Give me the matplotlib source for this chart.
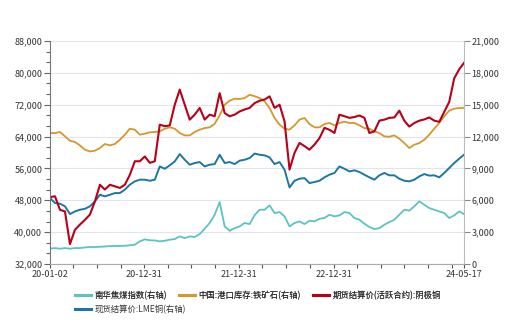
import numpy as np
import pandas as pd
import matplotlib
matplotlib.use("Agg")
import matplotlib.pyplot as plt
from matplotlib.lines import Line2D

plt.rcParams['font.family'] = ['Noto Sans CJK SC', 'DejaVu Sans']
plt.rcParams['axes.unicode_minus'] = False

# ---------------- data ----------------
start_date = "2020-01-02"
end_date = "2024-05-17"
step_days = 19.25
n_steps = 83

copper_shfe = [48800, 49000, 45600, 45200, 37000, 40600, 41900, 43100, 44400, 47700,
               51900, 50700, 51900, 51500, 51100, 51900, 54400, 57800, 57800, 59000,
               57400, 57800, 67000, 66600, 66800, 72000, 75800, 72000, 68250, 69500,
               71200, 68250, 69500, 69100, 74900, 69900, 69100, 69500, 70300, 70800,
               71200, 72400, 73000, 73300, 74100, 71200, 72000, 67800, 55700, 59900,
               62400, 61600, 60700, 62000, 63600, 66200, 65700, 64900, 69500, 69100,
               68700, 68900, 69300, 68700, 64900, 65300, 68000, 68250, 68700, 68800,
               70500, 68000, 66500, 67400, 68000, 68300, 68800, 68000, 67700, 70200,
               72700, 78600, 80900, 82500]

iron_ore_stock = [12330, 12330, 12430, 12020, 11610, 11490, 11170, 10760, 10600, 10670,
                  10920, 11300, 11170, 11300, 11700, 12180, 12740, 12650, 12180, 12270,
                  12400, 12430, 12490, 12740, 12870, 12740, 12330, 12110, 12110, 12430,
                  12650, 12800, 12870, 13200, 14000, 15000, 15380, 15570, 15540, 15630,
                  15940, 15800, 15630, 15320, 14690, 13750, 13120, 12740, 12650, 13060,
                  13590, 13750, 13180, 12870, 12870, 13180, 13280, 13060, 13280, 13400,
                  13280, 13280, 13060, 12800, 12740, 12490, 12330, 12020, 11990, 12110,
                  11800, 11390, 10920, 11230, 11390, 11700, 12180, 12740, 13280, 13900,
                  14440, 14630, 14690, 14700]

lme_copper = [6210, 5740, 5680, 5430, 4700, 4950, 5110, 5200, 5430, 5900,
              6520, 6370, 6520, 6680, 6680, 7000, 7470, 7780, 7940, 7940,
              7840, 7940, 9190, 8970, 9290, 9660, 10350, 9820, 9350, 9510,
              9600, 9190, 9350, 9410, 10290, 9510, 9600, 9410, 9730, 9820,
              9980, 10400, 10290, 10230, 10040, 9410, 9600, 8880, 7210, 7840,
              8030, 8090, 7620, 7720, 7840, 8160, 8410, 8570, 9190, 8970,
              8720, 8820, 8660, 8410, 8160, 7940, 8350, 8570, 8350, 8350,
              8030, 7840, 7780, 7940, 8250, 8470, 8320, 8350, 8160, 8570,
              9040, 9510, 9920, 10290]

coking_coal = [1440, 1500, 1440, 1500, 1440, 1500, 1500, 1560, 1600, 1600,
               1620, 1650, 1690, 1690, 1700, 1720, 1760, 1820, 2130, 2320,
               2230, 2220, 2130, 2190, 2290, 2350, 2600, 2440, 2600, 2540,
               2820, 3320, 3860, 4640, 5830, 3540, 3130, 3380, 3540, 3860,
               3760, 4600, 5110, 5110, 5520, 4800, 4890, 4480, 3540, 3860,
               4010, 3760, 4080, 4010, 4260, 4330, 4640, 4480, 4580, 4890,
               4800, 4330, 4170, 3790, 3480, 3290, 3380, 3700, 3950, 4170,
               4640, 5110, 5020, 5430, 5900, 5580, 5270, 5110, 4950, 4800,
               4330, 4580, 4950, 4700]

labels = ["南华焦煤指数(右轴)", "中国:港口库存:铁矿石(右轴)",
          "期货结算价(活跃合约):阴极铜", "现货结算价:LME铜(右轴)"]
colors = ["#5cc3c3", "#d4982c", "#b8001a", "#1d76a3"]

left_ticks = [32000, 40000, 48000, 56000, 64000, 72000, 80000, 88000]
right_ticks = [0, 3000, 6000, 9000, 12000, 15000, 18000, 21000]
x_label_dates = ["2020-01-02", "2020-12-31", "2021-12-31", "2022-12-31", "2024-05-17"]
x_label_text = ["20-01-02", "20-12-31", "21-12-31", "22-12-31", "24-05-17"]

# ---------------- dates ----------------
t0 = pd.Timestamp(start_date)
dates = [t0 + pd.Timedelta(days=step_days * i) for i in range(n_steps)] + [pd.Timestamp(end_date)]
dates = pd.to_datetime(dates)

quarter_ticks = list(pd.date_range("2020-03-31", "2024-03-31", freq="QE"))
tick_dates = [pd.Timestamp(start_date)] + quarter_ticks + [pd.Timestamp(end_date)]

# ---------------- figure ----------------
fig = plt.figure(figsize=(5.28, 3.31), dpi=100)
ax1 = fig.add_axes([50 / 528, 1 - 264 / 331, 414 / 528, 223 / 331])
ax2 = ax1.twinx()

ax2.plot(dates, coking_coal, color=colors[0], lw=1.3)
ax2.plot(dates, iron_ore_stock, color=colors[1], lw=1.3)
ax2.plot(dates, lme_copper, color=colors[3], lw=1.4)
ax1.plot(dates, copper_shfe, color=colors[2], lw=1.5)

ax1.set_zorder(ax2.get_zorder() + 1)
ax1.patch.set_visible(False)

ax1.set_ylim(left_ticks[0], left_ticks[-1])
ax2.set_ylim(right_ticks[0], right_ticks[-1])
ax1.set_xlim(pd.Timestamp(start_date), pd.Timestamp(end_date))

ax1.set_yticks(left_ticks)
ax1.set_yticklabels([f"{v:,}" for v in left_ticks])
ax1.set_yticks(np.arange(left_ticks[0], left_ticks[-1], 8000 / 3), minor=True)
ax2.set_yticks(right_ticks)
ax2.set_yticklabels(["0" if v == 0 else f"{v:,}" for v in right_ticks])

ax1.set_xticks(tick_dates)
lab_set = {pd.Timestamp(d): t for d, t in zip(x_label_dates, x_label_text)}
ax1.set_xticklabels([lab_set.get(pd.Timestamp(d), "") for d in tick_dates])

ax2.grid(axis="y", color="#e4e4ee", lw=0.8)
ax2.set_axisbelow(True)
ax1.grid(False)

for ax in (ax1, ax2):
    ax.spines["top"].set_visible(False)
ax1.spines["left"].set_color("#777777")
ax1.spines["bottom"].set_color("#aaaaaa")
ax2.spines["right"].set_color("#bbbbbb")
ax2.spines["left"].set_visible(False)
ax2.spines["bottom"].set_visible(False)
ax1.spines["right"].set_visible(False)

ax1.tick_params(axis="y", which="major", length=4, width=0.8, color="#666666",
                labelsize=6.5, labelcolor="#333333", pad=1.5)
ax1.tick_params(axis="y", which="minor", length=3, width=0.8, color="#666666")
ax2.tick_params(axis="y", length=4, width=0.8, color="#888888",
                labelsize=6.5, labelcolor="#333333", pad=1.5)
ax1.tick_params(axis="x", length=3, width=0.8, color="#555555",
                labelsize=6.5, labelcolor="#333333", pad=1.5)

# ---------------- legend ----------------
handles = [Line2D([], [], color=c, lw=2.2) for c in colors]
leg1 = fig.legend(handles[:3], labels[:3], ncol=3, loc="upper left",
                  bbox_to_anchor=(75 / 528, 1 - 291 / 331), frameon=False,
                  fontsize=6, handlelength=1.9, handletextpad=0.4,
                  columnspacing=1.5, borderaxespad=0, borderpad=0)
fig.add_artist(leg1)
leg2 = fig.legend(handles[3:], labels[3:], ncol=1, loc="upper left",
                  bbox_to_anchor=(75 / 528, 1 - 305 / 331), frameon=False,
                  fontsize=6, handlelength=1.9, handletextpad=0.4,
                  borderaxespad=0, borderpad=0)
for lg in (leg1, leg2):
    for t in lg.get_texts():
        t.set_color("#333333")

fig.savefig("out.png", dpi=100)
